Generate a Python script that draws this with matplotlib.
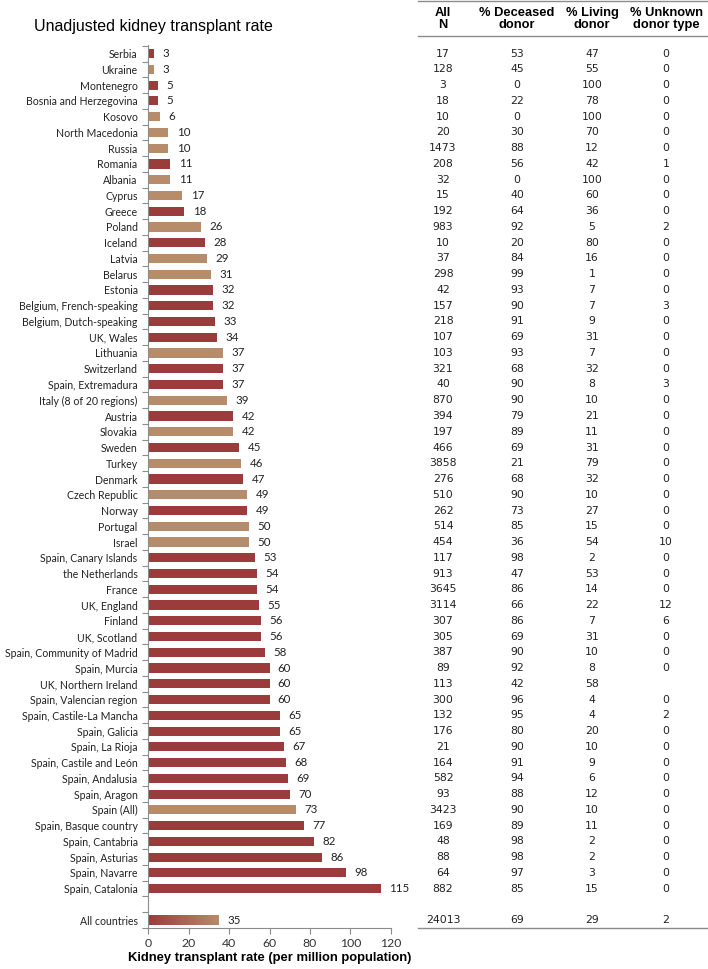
import matplotlib
matplotlib.use('Agg')
import matplotlib.pyplot as plt
import numpy as np
from matplotlib.lines import Line2D
from matplotlib.colors import LinearSegmentedColormap
from matplotlib.transforms import blended_transform_factory

# rows, top to bottom
countries = ['Serbia', 'Ukraine', 'Montenegro', 'Bosnia and Herzegovina', 'Kosovo',
             'North Macedonia', 'Russia', 'Romania', 'Albania', 'Cyprus', 'Greece',
             'Poland', 'Iceland', 'Latvia', 'Belarus', 'Estonia',
             'Belgium, French-speaking', 'Belgium, Dutch-speaking', 'UK, Wales',
             'Lithuania', 'Switzerland', 'Spain, Extremadura', 'Italy (8 of 20 regions)',
             'Austria', 'Slovakia', 'Sweden', 'Turkey', 'Denmark', 'Czech Republic',
             'Norway', 'Portugal', 'Israel', 'Spain, Canary Islands', 'the Netherlands',
             'France', 'UK, England', 'Finland', 'UK, Scotland',
             'Spain, Community of Madrid', 'Spain, Murcia', 'UK, Northern Ireland',
             'Spain, Valencian region', 'Spain, Castile-La Mancha', 'Spain, Galicia',
             'Spain, La Rioja', 'Spain, Castile and León', 'Spain, Andalusia',
             'Spain, Aragon', 'Spain (All)', 'Spain, Basque country', 'Spain, Cantabria',
             'Spain, Asturias', 'Spain, Navarre', 'Spain, Catalonia']
rates = [3, 3, 5, 5, 6, 10, 10, 11, 11, 17, 18, 26, 28, 29, 31, 32, 32, 33, 34, 37,
         37, 37, 39, 42, 42, 45, 46, 47, 49, 49, 50, 50, 53, 54, 54, 55, 56, 56, 58,
         60, 60, 60, 65, 65, 67, 68, 69, 70, 73, 77, 82, 86, 98, 115]
# 'r' = dark red bar, 't' = tan bar
bar_group = ['r', 't', 'r', 'r', 't', 't', 't', 'r', 't', 't', 'r', 't', 'r', 't',
             't', 'r', 'r', 'r', 'r', 't', 'r', 'r', 't', 'r', 't', 'r', 't', 'r',
             't', 'r', 't', 't', 'r', 'r', 'r', 'r', 'r', 'r', 'r', 'r', 'r', 'r',
             'r', 'r', 'r', 'r', 'r', 'r', 't', 'r', 'r', 'r', 'r', 'r']
all_n = [17, 128, 3, 18, 10, 20, 1473, 208, 32, 15, 192, 983, 10, 37, 298, 42, 157,
         218, 107, 103, 321, 40, 870, 394, 197, 466, 3858, 276, 510, 262, 514, 454,
         117, 913, 3645, 3114, 307, 305, 387, 89, 113, 300, 132, 176, 21, 164, 582,
         93, 3423, 169, 48, 88, 64, 882]
pct_deceased = [53, 45, 0, 22, 0, 30, 88, 56, 0, 40, 64, 92, 20, 84, 99, 93, 90, 91,
                69, 93, 68, 90, 90, 79, 89, 69, 21, 68, 90, 73, 85, 36, 98, 47, 86,
                66, 86, 69, 90, 92, 42, 96, 95, 80, 90, 91, 94, 88, 90, 89, 98, 98,
                97, 85]
pct_living = [47, 55, 100, 78, 100, 70, 12, 42, 100, 60, 36, 5, 80, 16, 1, 7, 7, 9,
              31, 7, 32, 8, 10, 21, 11, 31, 79, 32, 10, 27, 15, 54, 2, 53, 14, 22, 7,
              31, 10, 8, 58, 4, 4, 20, 10, 9, 6, 12, 10, 11, 2, 2, 3, 15]
pct_unknown = [0, 0, 0, 0, 0, 0, 0, 1, 0, 0, 0, 2, 0, 0, 0, 0, 3, 0, 0, 0, 0, 3, 0,
               0, 0, 0, 0, 0, 0, 0, 0, 10, 0, 0, 0, 12, 6, 0, 0, 0, None, 0, 2, 0, 0,
               0, 0, 0, 0, 0, 0, 0, 0, 0]

total_label = 'All countries'
total_rate = 35
total_row = [24013, 69, 29, 2]

col_headers = ['All\nN', '% Deceased\ndonor', '% Living\ndonor', '% Unknown\ndonor type']

RED = '#9b3b3c'
TAN = '#b68c6a'
GREY = '#8c8c8c'
LAB_FAMILY = ['Lato', 'DejaVu Sans']

W, H = 708, 969
fig = plt.figure(figsize=(W / 100, H / 100), dpi=100)
ax = fig.add_axes([148 / W, 41 / H, 243 / W, 883 / H])

ypos = np.arange(len(countries))
ytotal = len(countries) + 1
colors = [RED if g == 'r' else TAN for g in bar_group]
bar_h = 0.58
ax.barh(ypos, rates, height=bar_h, color=colors, zorder=2)

# gradient bar for all countries
cmap = LinearSegmentedColormap.from_list('rt', [RED, TAN])
grad = np.linspace(0, 1, 256).reshape(1, -1)
ax.imshow(grad, cmap=cmap, aspect='auto', zorder=2,
          extent=(0, total_rate, ytotal + bar_h / 2, ytotal - bar_h / 2))

lab_font = dict(family=LAB_FAMILY, fontsize=8.3, color='#222222')
for y, r in zip(ypos, rates):
    ax.annotate(str(r), (r, y), xytext=(6, 0), textcoords='offset points',
                va='center', ha='left', **lab_font)
ax.annotate(str(total_rate), (total_rate, ytotal), xytext=(6, 0),
            textcoords='offset points', va='center', ha='left', **lab_font)

ax.set_xlim(0, 120)
ax.set_ylim(ytotal + 0.5, -0.55)
ax.set_xticks(np.arange(0, 121, 20))
ax.set_yticks(list(ypos) + [ytotal], countries + [total_label])
ax.set_yticks(np.arange(-0.5, ytotal + 0.6, 1), minor=True)
ax.tick_params(axis='y', which='major', length=0, pad=7.5)
ax.tick_params(axis='y', which='minor', length=4, color=GREY, width=0.8)
ax.tick_params(axis='x', length=4, color=GREY, width=0.8, pad=3)
for t in ax.get_yticklabels():
    t.set_fontfamily(LAB_FAMILY)
    t.set_fontsize(7.6)
    t.set_color('#222222')
for t in ax.get_xticklabels():
    t.set_fontfamily(LAB_FAMILY)
    t.set_fontsize(8.8)
    t.set_color('#333333')
for s in ['top', 'right']:
    ax.spines[s].set_visible(False)
for s in ['left', 'bottom']:
    ax.spines[s].set_color(GREY)
    ax.spines[s].set_linewidth(0.8)
ax.set_xlabel('Kidney transplant rate (per million population)',
              fontsize=9.4, fontweight='bold', family=['Liberation Sans', 'DejaVu Sans'],
              labelpad=2)

fig.text(153 / W, 1 - 27 / H, 'Unadjusted kidney transplant rate', ha='center',
         va='center', fontsize=11.5, family=['Liberation Sans', 'DejaVu Sans'])

# table on the right
col_x = [443 / W, 517 / W, 592 / W, 666 / W]
trans = blended_transform_factory(fig.transFigure, ax.transData)
tab_font = dict(family='DejaVu Sans', fontsize=7.8, color='#222222')
for i in range(len(countries)):
    vals = [all_n[i], pct_deceased[i], pct_living[i], pct_unknown[i]]
    for x, v in zip(col_x, vals):
        if v is None:
            continue
        ax.text(x, i, str(v), transform=trans, ha='center', va='center', **tab_font)
for x, v in zip(col_x, total_row):
    ax.text(x, ytotal, str(v), transform=trans, ha='center', va='center', **tab_font)

for x, h in zip(col_x, col_headers):
    fig.text(x, 1 - 19 / H, h, ha='center', va='center', fontsize=9.3,
             fontweight='bold', linespacing=1.05,
             family=['Liberation Sans Narrow', 'Liberation Sans', 'DejaVu Sans'])

for yy in [1, 36, 928]:
    fig.add_artist(Line2D([418 / W, 1], [1 - yy / H, 1 - yy / H],
                          transform=fig.transFigure, color=GREY, lw=1))

fig.savefig('out.png', dpi=100)
